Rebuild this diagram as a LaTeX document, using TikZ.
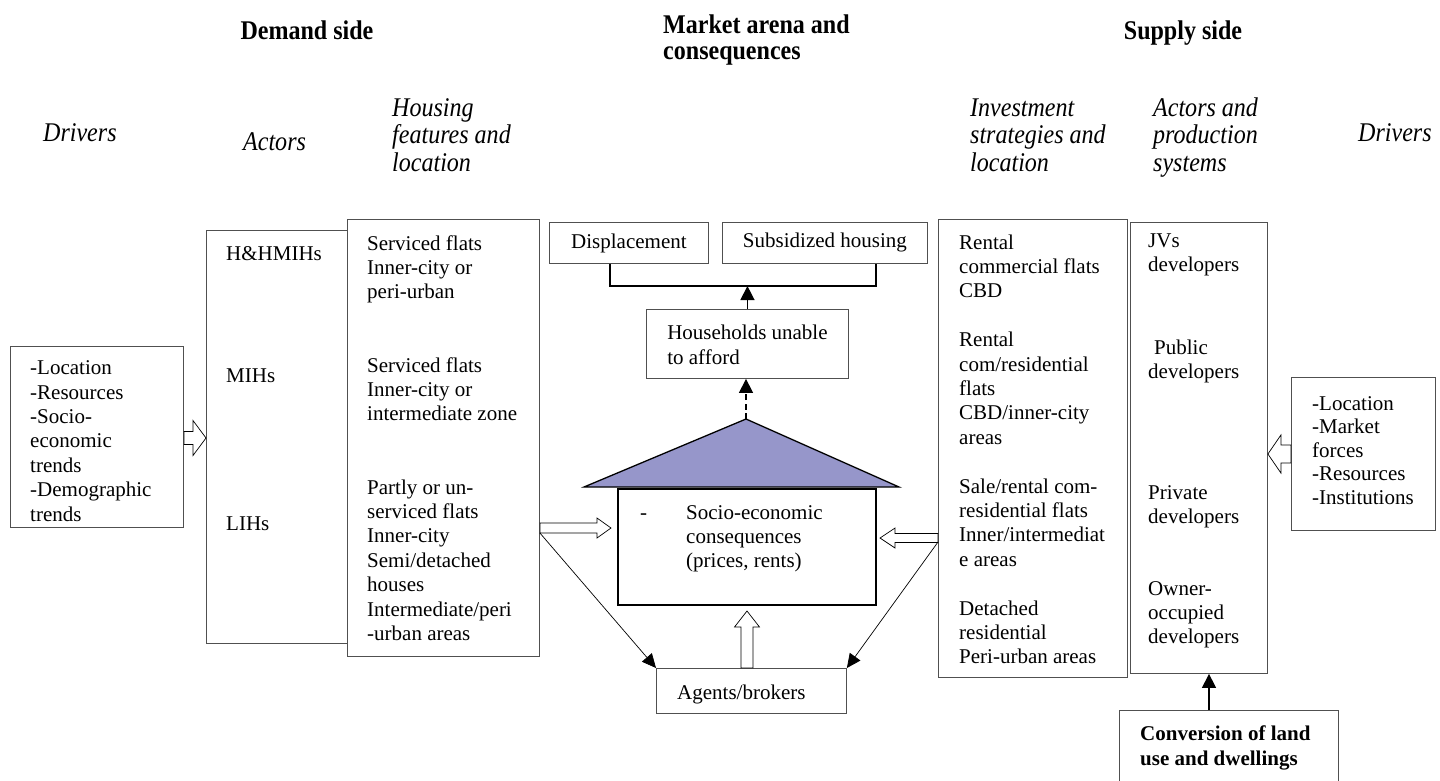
\documentclass[tikz,border=0pt]{standalone}
\usepackage{fontspec}
\setmainfont{Liberation Serif}
\newfontfamily\headfont[FakeStretch=0.89]{Liberation Serif}
\usetikzlibrary{arrows.meta,calc}

\definecolor{roofblue}{RGB}{150,150,202}
\definecolor{framegray}{RGB}{80,80,80}

% multi-line texts are placed by the baseline of their last line
\tikzset{
  frame/.style={draw=framegray, line width=0.9pt, fill=white, inner sep=0pt, anchor=north west},
  txt/.style={font=\fontsize{21}{24.4}\selectfont, align=left, anchor=base west, inner sep=0pt},
  boldtxt/.style={font=\bfseries\fontsize{21}{25}\selectfont, align=left, anchor=base west, inner sep=0pt},
  headit/.style={font=\headfont\itshape\fontsize{27}{27.5}\selectfont, align=left, anchor=base west, inner sep=0pt},
  headbf/.style={font=\headfont\bfseries\fontsize{27}{26}\selectfont, align=left, anchor=base west, inner sep=0pt},
  hollow/.style={draw=black, line width=0.7pt, fill=white, line join=miter},
  thinarrow/.style={draw=black, line width=0.7pt, -{Triangle[length=14pt,width=13pt]}},
  solidarrow/.style={draw=black, line width=1.4pt, -{Triangle[length=14pt,width=14pt]}},
  dashedarrow/.style={solidarrow, dash pattern=on 6pt off 3.5pt},
}

% rectangular panel: [extra style]{name}{x1}{y1}{x2}{y2}
\newcommand\panel[6][]{%
  \node[frame,minimum width={(#5-#3)*1pt},minimum height={(#6-#4)*1pt},#1] (#2) at (#3,#4) {};}

% hollow block arrow: {from}{tip}{head length}{shaft half-width}{head half-width}
\newcommand\blockarrow[5]{%
  \path ($(#2)!#3!(#1)$) coordinate (bac);
  \draw[hollow] ($(#1)!#4!90:(#2)$) -- ($(bac)!#4!90:(#2)$) -- ($(bac)!#5!90:(#2)$)
    -- (#2) -- ($(bac)!#5!-90:(#2)$) -- ($(bac)!#4!-90:(#2)$) -- ($(#1)!#4!-90:(#2)$) -- cycle;}

\begin{document}
\begin{tikzpicture}[x=1pt,y=-1pt]
\useasboundingbox (0,0) rectangle (1440,780);
\clip (0,0) rectangle (1440,780);

% ---- column headings ----
\node[headbf, anchor=base] (hdem) at (307,39) {Demand side};
\node[headbf] (hmkt) at (663,59) {Market arena and\\consequences};
\node[headbf, anchor=base] (hsup) at (1183,39) {Supply side};
\node[headit] (hdrvl) at (43,141) {Drivers};
\node[headit] (hact) at (243,150) {Actors};
\node[headit] (hhou) at (392,171) {Housing\\features and\\location};
\node[headit] (hinv) at (970,171) {Investment\\strategies and\\location};
\node[headit] (hprod) at (1153,171) {Actors and\\production\\systems};
\node[headit] (hdrvr) at (1358,141) {Drivers};

% ---- demand side ----
\panel{ldrv}{10}{346}{183}{527}
\node[txt] (ldrvtxt) at (30,521) {-Location\\-Resources\\-Socio-\\economic\\trends\\-Demographic\\trends};

\panel{actors}{206}{230}{350}{643}
\node[txt] (a1) at (226,260) {H\&HMIHs};
\node[txt] (a2) at (226,382) {MIHs};
\node[txt] (a3) at (226,530) {LIHs};

\panel{hfeat}{347}{219}{539}{656}
\node[txt] (hfeattxt) at (367,640.4) {Serviced flats\\Inner-city or\\peri-urban\\[48.8pt]
  Serviced flats\\Inner-city or\\intermediate zone\\[48.8pt]
  Partly or un-\\serviced flats\\Inner-city\\Semi/detached\\houses\\Intermediate/peri\\-urban areas};

% ---- market arena ----
\panel{disp}{549}{222}{708}{263}
\node[txt, anchor=center] (disptxt) at (disp.center) {Displacement};
\panel{subs}{722}{222}{927}{263}
\node[txt, anchor=center] (substxt) at (subs.center) {Subsidized housing};
\panel{hh}{646}{309}{848}{378}
\node[txt, anchor=center] (hhtxt) at ($(hh.center)+(0,1)$) {Households unable\\to afford};

\draw[fill=roofblue, line width=1.3pt, line join=miter] (584,487) -- (746,419) coordinate (apex) -- (899,487) -- cycle;
\panel[draw=black, line width=2pt]{main}{617}{488}{875}{604}
\node[txt] (dash) at (640,519) {-};
\node[txt] (maintxt) at (686,567.8) {Socio-economic\\consequences\\(prices, rents)};

\panel{agents}{656}{668}{846}{713}
\node[txt] (agtxt) at (677,699) {Agents/brokers};

% bracket over the two outcomes
\draw[line width=1.8pt] (disp.south -| 610,0) -- (610,286) coordinate (brkL) -- (876,286) -- (subs.south -| 876,0);
\draw[solidarrow] (hh.north) -- (hh.north |- brkL);
\draw[dashedarrow] (apex) -- (hh.south -| apex);

% ---- supply side ----
\panel{invest}{938}{219}{1127}{677}
\node[txt] (invtxt) at (959,663.8) {Rental\\commercial flats\\CBD\\[24.4pt]
  Rental\\com/residential\\flats\\CBD/inner-city\\areas\\[24.4pt]
  Sale/rental com-\\residential flats\\Inner/intermediat\\e areas\\[24.4pt]
  Detached\\residential\\Peri-urban areas};

\panel{prod}{1130}{222}{1267}{673}
\node[txt] (p1) at (1148,271.4) {JVs\\developers};
\node[txt] (p2) at (1148,378.4) {\hspace*{6pt}Public\\developers};
\node[txt] (p3) at (1148,523.4) {Private\\developers};
\node[txt] (p4) at (1148,643.8) {Owner-\\occupied\\developers};

\panel{rdrv}{1291}{377}{1435}{530}
\node[txt, font=\fontsize{21}{23.5}\selectfont] (rdrvtxt) at (1312,504) {-Location\\-Market\\forces\\-Resources\\-Institutions};

\panel{conv}{1119}{710}{1338}{800}
\node[boldtxt] (convtxt) at (1140,765) {Conversion of land\\use and dwellings};
\draw[solidarrow] (conv.north -| 1209,0) -- (prod.south -| 1209,0);

% ---- block arrows ----
\coordinate (ldA) at (ldrv.east |- 0,438);
\coordinate (ldB) at (actors.west |- 0,438);
\blockarrow{ldA}{ldB}{13pt}{6.5pt}{17.5pt}

\coordinate (hfA) at (hfeat.east |- 0,528);
\coordinate (hfB) at ($(main.west |- 0,528)+(-6,0)$);
\blockarrow{hfA}{hfB}{14pt}{5pt}{10pt}

\coordinate (ivA) at (invest.west |- 0,538);
\coordinate (ivB) at ($(main.east |- 0,538)+(3,0)$);
\blockarrow{ivA}{ivB}{15pt}{4.5pt}{10pt}

\coordinate (agA) at (agents.north -| 747,0);
\coordinate (agB) at ($(main.south -| 747,0)+(0,5)$);
\blockarrow{agA}{agB}{16pt}{6pt}{12.5pt}

\coordinate (rdA) at (rdrv.west |- 0,454);
\coordinate (rdB) at (prod.east |- 0,454);
\blockarrow{rdA}{rdB}{13pt}{9pt}{19pt}

% ---- links to agents ----
\draw[thinarrow] (hfeat.east |- 0,533) -- (agents.north west);
\draw[thinarrow] (invest.west |- 0,542) -- (agents.north east);
\end{tikzpicture}
\end{document}
